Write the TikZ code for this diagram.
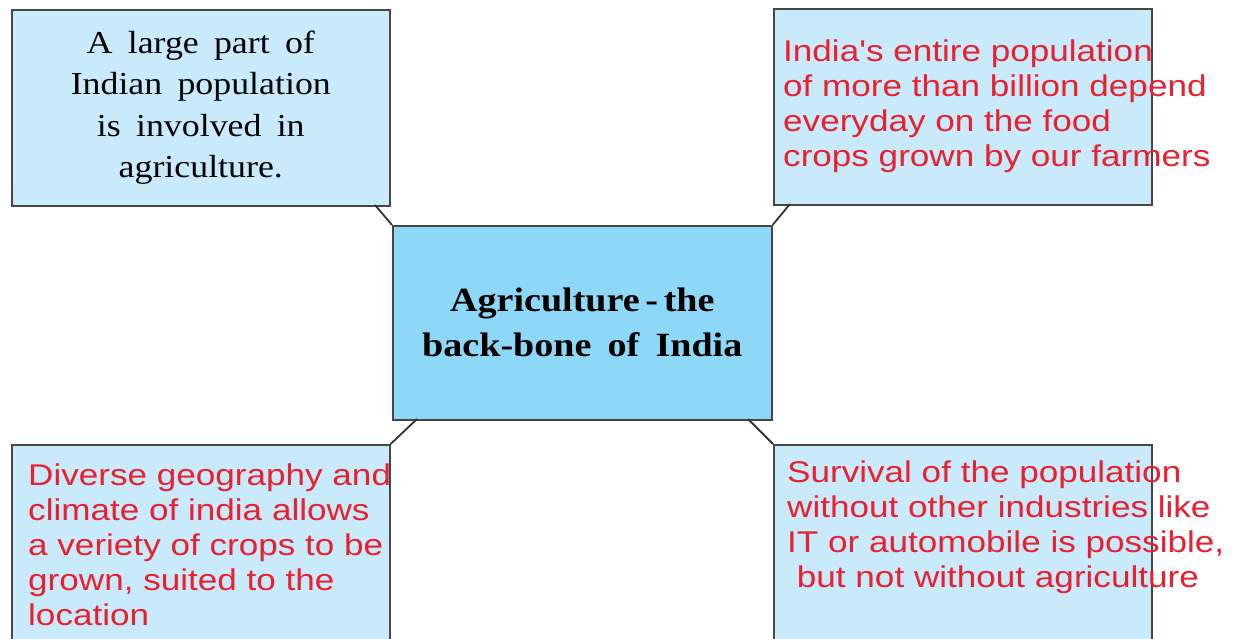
\documentclass[tikz,border=0pt]{standalone}
\usepackage{fontspec}
\setmainfont{Liberation Serif}
\newfontfamily\redfont[FakeStretch=1.17]{Liberation Sans}
\newfontfamily\capfont[FakeStretch=1.12,WordSpace=1.7]{Liberation Serif}
\usepackage{tikz}
\usetikzlibrary{positioning,calc}

\definecolor{boxline}{RGB}{70,70,70}
\definecolor{boxfill}{RGB}{200,234,251}
\definecolor{hubfill}{RGB}{142,216,247}
\definecolor{redtxt}{RGB}{232,32,48}

\tikzset{
  sidebox/.style={draw=boxline, fill=boxfill, line width=1.6pt, anchor=north west,
    minimum width=378pt, inner sep=0pt},
  hubbox/.style={draw=boxline, fill=hubfill, line width=1.6pt, anchor=north west,
    minimum width=379pt, minimum height=194pt, inner sep=0pt, align=center,
    font={\capfont\bfseries\fontsize{34}{45}\selectfont}},
  redtext/.style={text=redtxt, anchor=base west, align=left, inner sep=0pt,
    font={\redfont\fontsize{30}{35}\selectfont}},
  link/.style={draw=black!80, line width=1.8pt}
}

\begin{document}
\begin{tikzpicture}[x=1pt,y=-1pt]
                    \useasboundingbox (0,0) rectangle (1243,638);

                    % the four boxes round the centre
                    \node[sidebox, minimum height=196pt, align=center,
                      font={\capfont\fontsize{32}{41.5}\selectfont}] (topleft) at (11,9)
                      {A large part of\\Indian population\\is involved in\\agriculture.};
                    \node[sidebox, minimum height=196pt] (topright) at (773,8) {};
                    \node[sidebox, minimum height=205pt] (bottomleft) at (11,444) {};
                    \node[sidebox, minimum height=205pt] (bottomright) at (773,444) {};

                    % centre box
                    \node[hubbox] (hub) at (392,225) {Agriculture\,-\,the\\back-bone of India};

                    % red texts, running over the box edges (placed by their last line)
                    \node[redtext] (toprighttext) at (783,166)
                      {India's entire population\\of more than billion depend\\everyday on the food\\crops grown by our farmers};
                    \node[redtext] (bottomlefttext) at (28,625)
                      {Diverse geography and\\climate of india allows\\a veriety of crops to be\\grown, suited to the\\location};
                    \node[redtext] (bottomrighttext) at (787,587)
                      {Survival of the population\\without other industries like\\IT or automobile is possible,\\\ but not without agriculture};

                    % ends of the connectors on the side boxes
                    \coordinate (tlfoot) at (375,205);
                    \coordinate (trfoot) at (790,204);
                    \coordinate (blhead) at (417,419);
                    \coordinate (brhead) at (748,419);

                    \draw[link] (tlfoot) -- (hub.north west);
                    \draw[link] (trfoot) -- (hub.north east);
                    \draw[link] (blhead) -- (bottomleft.north east);
                    \draw[link] (brhead) -- (bottomright.north west);
                \end{tikzpicture}
\end{document}
